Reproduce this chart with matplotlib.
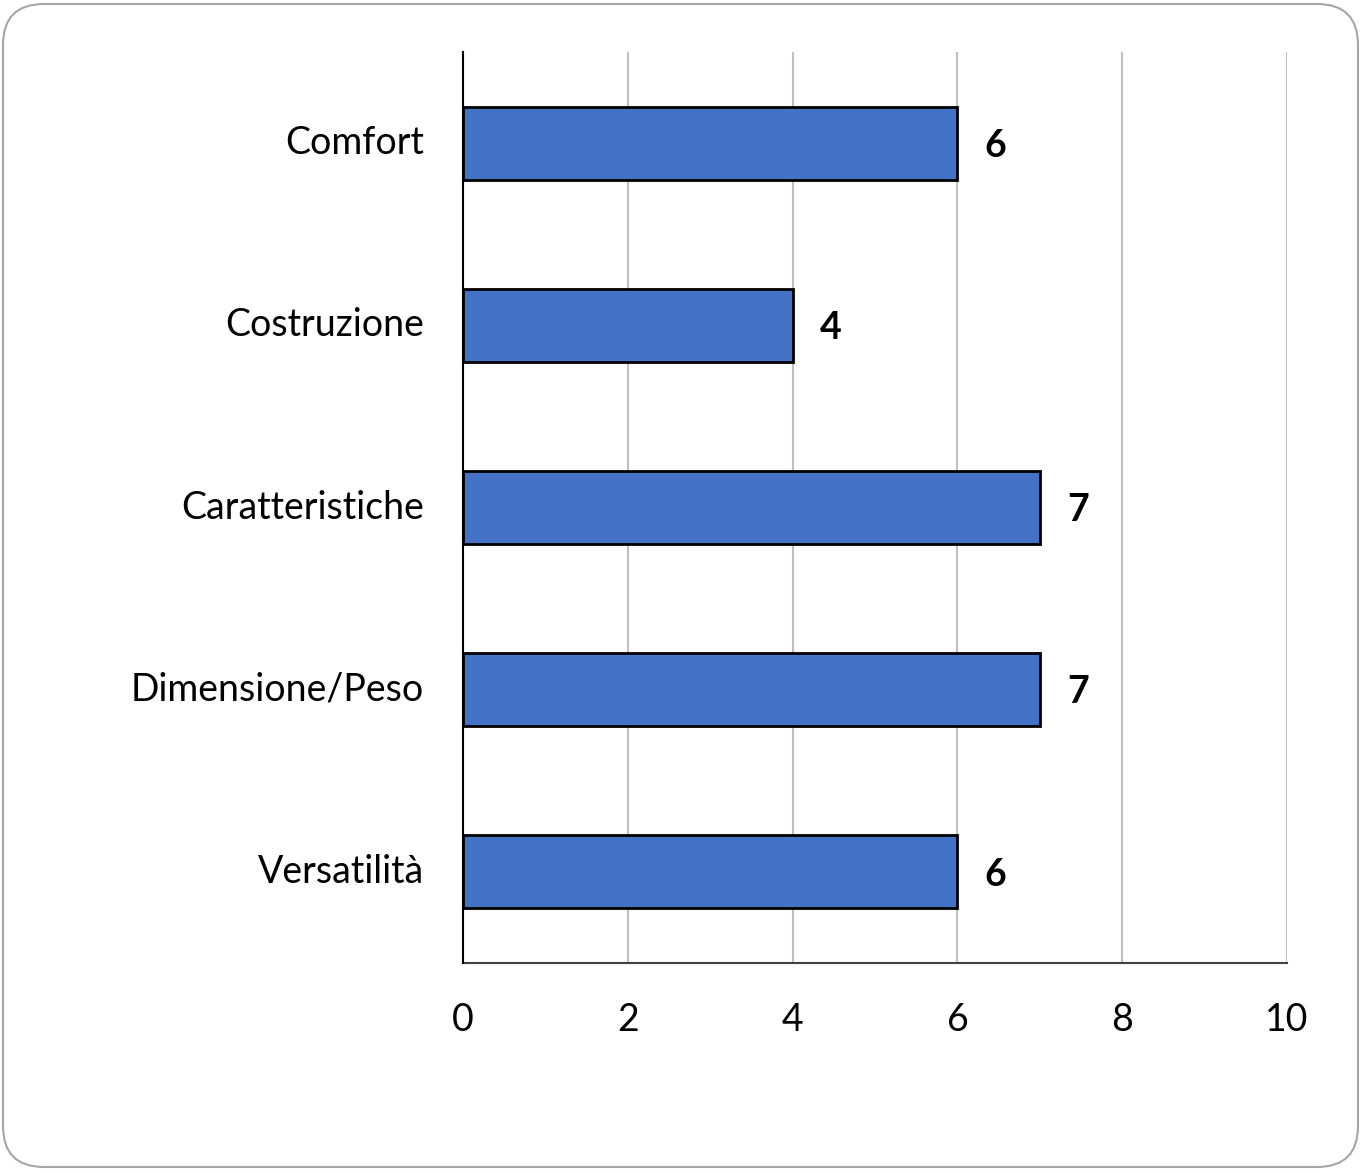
import matplotlib
matplotlib.use("Agg")
import matplotlib.pyplot as plt
from matplotlib.patches import FancyBboxPatch

categories = ["Comfort", "Costruzione", "Caratteristiche", "Dimensione/Peso", "Versatilità"]
values = [6, 4, 7, 7, 6]
xticks = [0, 2, 4, 6, 8, 10]

plt.rcParams['font.family'] = ['Lato', 'DejaVu Sans']

W, H = 1365, 1173
fig = plt.figure(figsize=(W/100, H/100), dpi=100)

# rounded border
border = FancyBboxPatch((3/W, 6/H), (1358-3)/W, (1171-6-2)/H,
                        boxstyle="round,pad=0,rounding_size=0.03",
                        transform=fig.transFigure, facecolor='none',
                        edgecolor='#a6a6a6', linewidth=1.5, mutation_aspect=W/H,
                        zorder=-1)
fig.patches.append(border)

ax = fig.add_axes([463/W, 1-963/H, (1287-463)/W, (963-52)/H])
ax.set_facecolor('none')
y = list(range(len(categories)))
ax.barh(y, values, height=0.4, color='#4472c4', edgecolor='black', linewidth=2, zorder=3)
ax.set_ylim(len(categories)-0.5, -0.5)
ax.set_xlim(0, 10)
ax.set_xticks(xticks)
ax.set_xticklabels([str(t) for t in xticks])
ax.set_yticks(y)
ax.set_yticklabels(categories)
ax.tick_params(axis='both', length=0, labelsize=27)
ax.tick_params(axis='y', pad=28)
ax.tick_params(axis='x', pad=28)
for lbl in ax.get_yticklabels():
    lbl.set_va('center')
ax.xaxis.grid(True, color='#c0c0c0', linewidth=1.5, zorder=0)
for s in ['top', 'right']:
    ax.spines[s].set_visible(False)
ax.spines['left'].set_color('black')
ax.spines['left'].set_linewidth(1.5)
ax.spines['left'].set_zorder(4)
ax.spines['bottom'].set_color('#404040')
ax.spines['bottom'].set_linewidth(1.5)

for yi, v in zip(y, values):
    ax.text(v + 0.33, yi + 0.015, str(v), va='center', ha='left', fontsize=27, fontweight='bold')

fig.savefig("out.png", dpi=100)
